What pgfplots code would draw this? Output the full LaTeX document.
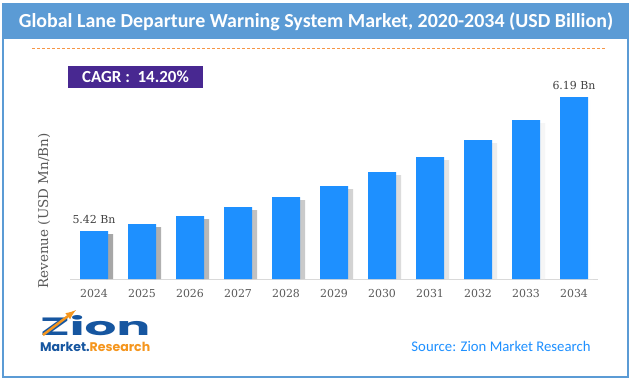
\documentclass[border=0pt]{standalone}
\usepackage{pgfplots}
\pgfplotsset{compat=1.18}
\usepackage{graphicx}
\usepackage{fontspec}
\setmainfont{Carlito}
\newfontfamily\serif{DejaVu Serif}
\newfontfamily\logofont{Poppins}
\definecolor{barblue}{RGB}{30,144,255}
\definecolor{titleblue}{RGB}{91,155,213}
\definecolor{cagr}{RGB}{72,40,145}
\definecolor{dashor}{RGB}{247,150,70}
\definecolor{txtgray}{RGB}{89,89,89}
\definecolor{lblgray}{RGB}{64,64,64}
\definecolor{logoblue}{RGB}{22,86,160}
\definecolor{logoorange}{RGB}{245,150,30}
\definecolor{srcblue}{RGB}{30,144,255}
\begin{document}
\begin{tikzpicture}[x=1bp,y=1bp]
\useasboundingbox (0,0) rectangle (634,382);
\fill[white] (0,0) rectangle (634,382);
\fill[titleblue] (3,343) rectangle (628,378);
\draw[titleblue, line width=1.2bp] (3,5) rectangle (628,378);
\node[white, font=\fontsize{20}{22}\selectfont\bfseries] at (316,360.5) {Global Lane Departure Warning System Market, 2020-2034 (USD Billion)};
\draw[dashor, line width=0.9bp, dash pattern=on 3bp off 2bp] (32,334) -- (605,334);
\fill[cagr] (68,294) rectangle (203,316);
\node[white, font=\fontsize{17}{19}\selectfont\bfseries] at (135.5,305) {CAGR :\ \ 14.20\%};
\node[rotate=90, text=txtgray, font=\serif\fontsize{13.5}{15}\selectfont] at (44,171) {Revenue (USD Mn/Bn)};
\begin{axis}[
  at={(70bp,103bp)}, anchor=south west,
  x=48bp, y=1bp,
  xmin=-0.5, xmax=10.5, ymin=0, ymax=200,
  hide y axis,
  axis x line*=bottom,
  x axis line style={gray!30, line width=0.8bp},
  xtick={0,...,10},
  xticklabels={2024,2025,2026,2027,2028,2029,2030,2031,2032,2033,2034},
  major tick length=0pt,
  xticklabel style={font=\serif\fontsize{11}{13}\selectfont, text=txtgray, yshift=-7bp},
  clip=false,
]
% shadows
\addplot[ybar, bar width=7bp, bar shift=15.5bp, draw=none, left color=black!35, right color=white]
  coordinates {(0,45) (1,52) (2,60) (3,69) (4,79) (5,90) (6,104) (7,119) (8,136) (9,156) (10,179)};
% bars
\addplot[ybar, bar width=28bp, bar shift=0bp, draw=none, fill=barblue]
  coordinates {(0,48) (1,55) (2,63) (3,72) (4,82) (5,93) (6,107) (7,122) (8,139) (9,159) (10,182)};
\node[above, text=lblgray, font=\serif\fontsize{11}{13}\selectfont, yshift=4bp] at (axis cs:0,48) {5.42 Bn};
\node[above, text=lblgray, font=\serif\fontsize{11}{13}\selectfont, yshift=4bp] at (axis cs:10,182) {6.19 Bn};
\end{axis}
% logo
\node[anchor=south west, inner sep=0, text=logoblue] at (40,46) {\resizebox{110bp}{20bp}{\logofont\bfseries Zion}};
\draw[logoorange, line width=2.5bp, -latex] (43,47) -- (76,72);
\node[anchor=north west, inner sep=0, font=\logofont\bfseries\fontsize{10}{12}\selectfont] at (40,40) {\resizebox{110bp}{!}{\textcolor{logoblue}{Market}\textcolor{logoblue}{.}\textcolor{logoorange}{Research}}};
\node[text=srcblue, font=\fontsize{14.8}{16}\selectfont] at (501,36) {Source: Zion Market Research};
\end{tikzpicture}
\end{document}
